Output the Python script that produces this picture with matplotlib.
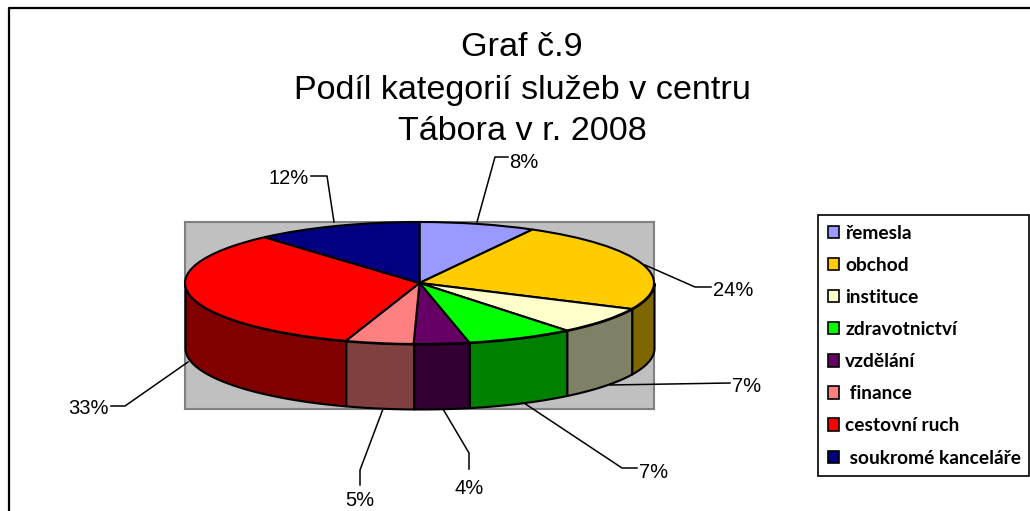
import numpy as np
import matplotlib
matplotlib.use('Agg')
import matplotlib.pyplot as plt
from matplotlib.colors import to_rgb
from matplotlib.patches import Patch

W, H = 1030, 511

categories = ['řemesla', 'obchod', 'instituce', 'zdravotnictví', 'vzdělání',
              ' finance', 'cestovní ruch', ' soukromé kanceláře']
shares = [8, 24, 7.2, 7.4, 3.8, 4.7, 33.4, 11.5]
colors = ['#9999FF', '#FFCC00', '#FFFFCC', '#00FF00', '#660066', '#FF8080', '#FF0000', '#000080']
title_lines = ['Graf č.9', 'Podíl kategorií služeb v centru', 'Tábora v r. 2008']

# label position and leader line for each slice, in pixels
label_pos = [(524, 162), (733, 290), (747, 387), (654, 472), (469, 488), (360, 500), (88, 408), (289, 178)]
leaders = [
    [(477, 222), (495, 157), (508, 157)],
    [(645, 265), (695, 287), (711, 287)],
    [(610, 385), (730, 383)],
    [(524, 403), (622, 468), (637, 468)],
    [(443, 409), (469, 453), (469, 469)],
    [(383, 409), (360, 470), (360, 485)],
    [(188, 362), (125, 406), (111, 406)],
    [(334, 222), (327, 176), (311, 176)],
]

ry = 61.0
depth = 65.0 / ry
box = (185, 222, 469, 187)  # grey plot area: x, y, w, h

fig = plt.figure(figsize=(W / 100, H / 100), dpi=100)

# overlay in pixel coords for frame, leaders and text
over = fig.add_axes([0, 0, 1, 1], zorder=3)
over.set_xlim(0, W)
over.set_ylim(H, 0)
over.axis('off')

ax = fig.add_axes([box[0] / W, 1 - (box[1] + box[3]) / H, box[2] / W, box[3] / H], zorder=2)
ax.pie(shares, colors=colors, startangle=90, counterclock=False, frame=True,
       wedgeprops={'edgecolor': 'black', 'linewidth': 1.5, 'clip_on': False, 'zorder': 5})
ax.set_aspect('auto')
ax.set_xlim(-1, 1)
ax.set_ylim(1 - box[3] / ry, 1)
ax.set_xticks([])
ax.set_yticks([])
ax.set_facecolor('#C0C0C0')
for s in ax.spines.values():
    s.set_color('#808080')
    s.set_linewidth(1.5)

# side wall, front half of the pie only
edges = np.cumsum([0] + shares) / sum(shares) * 360
for i in range(len(shares)):
    a = max(edges[i], 90)
    b = min(edges[i + 1], 270)
    if a >= b:
        continue
    t = np.radians(np.linspace(a, b, 60))
    dark = tuple(c * 0.5 for c in to_rgb(colors[i]))
    ax.fill_between(np.sin(t), np.cos(t) - depth, np.cos(t), facecolor=dark,
                    edgecolor='black', linewidth=1.5, clip_on=False, zorder=4)

# chart frame
over.plot([8.5, 8.5, W], [H, 8.5, 8.5], color='black', lw=1.6, clip_on=False)

for line, y in zip(title_lines, [48, 90, 131]):
    over.text(522, y, line, ha='center', va='center', fontsize=24.6, family='Liberation Sans', color='black')

for share, pos, pts in zip(shares, label_pos, leaders):
    over.plot([p[0] for p in pts], [p[1] for p in pts], color='black', lw=1.1)
    over.text(pos[0], pos[1], f'{share:.0f}%', ha='center', va='center', fontsize=14.5,
              family='Liberation Sans', color='black')

handles = [Patch(facecolor=c, edgecolor='black', linewidth=1.2) for c in colors]
leg = over.legend(handles, categories, loc='upper left', bbox_to_anchor=(818, 215, 211, 257),
                  bbox_transform=over.transData, mode='expand', borderaxespad=0, fancybox=False,
                  framealpha=1, edgecolor='black', ncols=1, handlelength=0.62, handleheight=0.62,
                  handletextpad=0.3, labelspacing=0.79, borderpad=0.5,
                  prop={'family': 'Lato', 'weight': 'bold', 'size': 13.8})
leg.get_frame().set_linewidth(1.2)

fig.savefig('out.png', dpi=100)
